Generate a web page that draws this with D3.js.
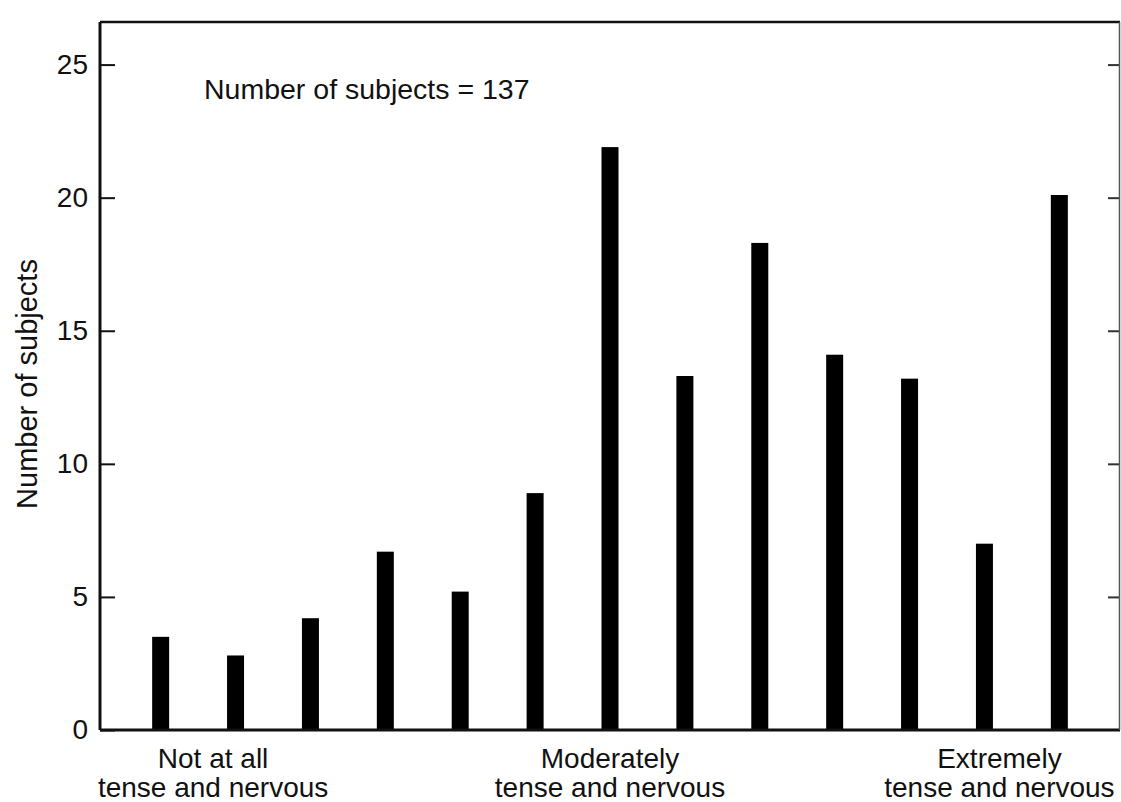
<!DOCTYPE html>
<html>
<head>
<meta charset="utf-8">
<script src="https://cdn.jsdelivr.net/npm/d3@7"></script>
<style>
  body { margin: 0; background: #fff; }
  text { font-family: "Liberation Sans", Arial, sans-serif; fill: #111; }
</style>
</head>
<body>
<div id="chart"></div>
<script>
// ratings 1..13 from "not at all" to "extremely" tense and nervous
const categories = d3.range(1, 14);
const counts = [3.5, 2.8, 4.2, 6.7, 5.2, 8.9, 21.9, 13.3, 18.3, 14.1, 13.2, 7.0, 20.1];
const yTicks = [0, 5, 10, 15, 20, 25];
const anchorLabels = [
  { at: 1.7, lines: ["Not at all", "tense and nervous"] },
  { at: 7, lines: ["Moderately", "tense and nervous"] },
  { at: 12.2, lines: ["Extremely", "tense and nervous"] }
];
const noteText = "Number of subjects = 137";
const yLabel = "Number of subjects";

function renderChart() {
  const totalW = 1121, totalH = 802;
  const margin = { top: 22, right: 1, bottom: 72, left: 100 };
  const width = totalW - margin.left - margin.right;
  const height = totalH - margin.top - margin.bottom;

  const svg = d3.select("#chart").append("svg")
    .attr("width", totalW)
    .attr("height", totalH)
    .append("g")
    .attr("transform", `translate(${margin.left},${margin.top})`);

  const x = d3.scalePoint()
    .domain(categories)
    .range([0, width])
    .padding(0.81);

  const y = d3.scaleLinear()
    .domain([0, 26.6])
    .range([height, 0]);

  // continuous helper so the group labels can sit between bars
  const xc = d3.scaleLinear()
    .domain([1, 13])
    .range([x(1), x(13)]);

  const barW = 17;
  svg.selectAll("rect.bar")
    .data(counts)
    .join("rect")
    .attr("class", "bar")
    .attr("x", (d, i) => x(categories[i]) - barW / 2)
    .attr("y", d => y(d))
    .attr("width", barW)
    .attr("height", d => height - y(d))
    .attr("fill", "#000");

  const yAxis = d3.axisLeft(y)
    .tickValues(yTicks)
    .tickSizeInner(-15)
    .tickSizeOuter(0)
    .tickPadding(12);

  const gl = svg.append("g").call(yAxis);
  gl.select(".domain").remove();
  gl.selectAll("line").attr("stroke", "#111").attr("stroke-width", 2);
  gl.selectAll("text")
    .style("font-size", "28px")
    .style("font-family", "'Liberation Sans', Arial, sans-serif")
    .attr("fill", "#111");

  const yAxisR = d3.axisRight(y)
    .tickValues(yTicks.filter(t => t > 0))
    .tickSizeInner(-12)
    .tickSizeOuter(0)
    .tickFormat("");
  const gr = svg.append("g")
    .attr("transform", `translate(${width},0)`)
    .call(yAxisR);
  gr.select(".domain").remove();
  gr.selectAll("line").attr("stroke", "#333").attr("stroke-width", 2);

  // frame
  svg.append("line").attr("x1", 0).attr("x2", 0).attr("y1", 0).attr("y2", height)
    .attr("stroke", "#111").attr("stroke-width", 3);
  svg.append("line").attr("x1", 0).attr("x2", width).attr("y1", height).attr("y2", height)
    .attr("stroke", "#111").attr("stroke-width", 3);
  svg.append("line").attr("x1", 0).attr("x2", width).attr("y1", 0).attr("y2", 0)
    .attr("stroke", "#111").attr("stroke-width", 2.5);
  svg.append("line").attr("x1", width - 0.5).attr("x2", width - 0.5).attr("y1", 0).attr("y2", height)
    .attr("stroke", "#555").attr("stroke-width", 1.5);

  // group labels under the axis
  const groups = svg.selectAll("text.group")
    .data(anchorLabels)
    .join("text")
    .attr("class", "group")
    .attr("text-anchor", "middle")
    .style("font-size", "28px");
  groups.selectAll("tspan")
    .data(d => d.lines.map(l => ({ l, at: d.at })))
    .join("tspan")
    .attr("x", d => xc(d.at))
    .attr("y", (d, i) => height + 38 + i * 29)
    .text(d => d.l);

  svg.append("text")
    .attr("x", 104)
    .attr("y", 77)
    .style("font-size", "28.5px")
    .text(noteText);

  svg.append("text")
    .attr("transform", "rotate(-90)")
    .attr("x", -(384 - margin.top))
    .attr("y", -63)
    .attr("text-anchor", "middle")
    .style("font-size", "29px")
    .text(yLabel);
}

renderChart();
</script>
</body>
</html>
